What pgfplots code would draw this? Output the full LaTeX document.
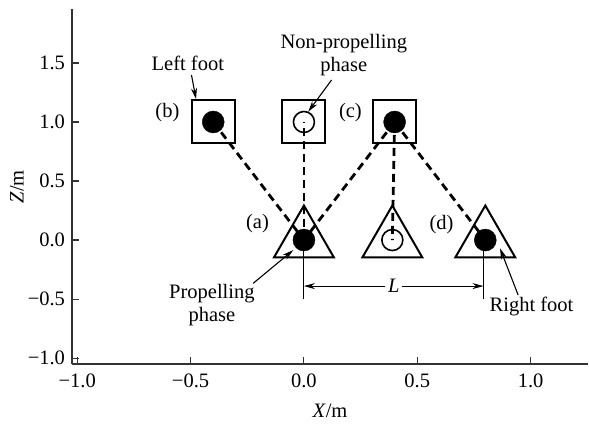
\documentclass[border=0pt]{standalone}
\usepackage{fontspec}
\setmainfont{Liberation Serif}
\usepackage{pgfplots}
\pgfplotsset{compat=1.18}
\usetikzlibrary{arrows.meta}

\newcommand{\lbl}{\fontsize{20.5}{23}\selectfont}

\begin{document}
\begin{tikzpicture}[font=\lbl]
\begin{axis}[
  width=516pt, height=354.5pt, scale only axis,
  xmin=-1.023, xmax=1.253, ymin=-1.05, ymax=1.953,
  axis lines*=left,
  axis line style={line width=1.2pt, black!80},
  tick style={line width=1.1pt, black!80},
  tick align=inside, major tick length=7pt,
  xtick={-1,-0.5,0,0.5,1},
  xticklabels={−1.0,−0.5,0.0,0.5,1.0},
  ytick={-1,-0.5,0,0.5,1,1.5},
  yticklabels={−1.0,−0.5,0.0,0.5,1.0,1.5},
  ticklabel style={font=\lbl},
  xticklabel style={yshift=-6pt},
  yticklabel style={xshift=-3.5pt},
  xlabel={\textit{X}/m},
  ylabel={\textit{Z}/m},
  label style={font=\lbl},
  xlabel style={at={(axis description cs:0.5,0)}, anchor=center, yshift=-47pt},
  ylabel style={at={(axis description cs:0,0.5)}, anchor=center, yshift=55pt},
  clip=false,
]
% support links between foot placements
\pgfplotsset{link/.style={no marks, black, line width=2.8pt, dash pattern=on 8pt off 5pt}}
\addplot[link] coordinates {(-0.4,1) (0,0)};
\addplot[link] coordinates {(0,0) (0,1)};
\addplot[link] coordinates {(0.4,1) (0,0)};
\addplot[link] coordinates {(0.4,1) (0.39,0)};
\addplot[link] coordinates {(0.4,1) (0.8,0)};

% left feet (squares) and right feet (triangles)
\addplot[only marks, mark=square, mark size=21.5pt, mark options={line width=2pt, black}]
  coordinates {(-0.4,1) (0,1) (0.4,1)};
\addplot[only marks, mark=triangle, mark size=34.5pt, mark options={line width=2pt, black}]
  coordinates {(0,0) (0.39,0) (0.8,0)};

% propelling (filled) and non-propelling (open) phases
\addplot[only marks, mark=*, mark size=11pt, mark options={black, fill=black}]
  coordinates {(-0.4,1) (0.4,1) (0,0) (0.8,0)};
\addplot[only marks, mark=o, mark size=10.5pt, mark options={line width=1.6pt, black}]
  coordinates {(0,1) (0.39,0)};

% annotations
\tikzset{ann/.style={line width=1.1pt, -{Stealth[length=11pt,width=6pt]}}}
\node at (axis cs:-0.512,1.50) {Left foot};
\draw[ann] (axis cs:-0.496,1.398) -- (axis cs:-0.476,1.195);
\node at (axis cs:-0.602,1.076) {(b)};
\node[align=center] at (axis cs:0.176,1.568) {Non-propelling\\phase};
\draw[ann] (axis cs:0.122,1.356) -- (axis cs:0.019,1.087);
\node at (axis cs:0.205,1.076) {(c)};
\node at (axis cs:-0.205,0.142) {(a)};
\node at (axis cs:0.607,0.127) {(d)};
\node[align=center] at (axis cs:-0.406,-0.551) {Propelling\\phase};
\draw[ann] (axis cs:-0.224,-0.367) -- (axis cs:-0.047,-0.085);
\node at (axis cs:1.004,-0.565) {Right foot};
\draw[ann] (axis cs:0.945,-0.466) -- (axis cs:0.865,-0.070);

% step length L
\draw[line width=1.1pt] (axis cs:0,0) -- (axis cs:0,-0.496);
\draw[line width=1.1pt] (axis cs:0.792,0) -- (axis cs:0.792,-0.496);
\draw[line width=1.1pt, {Stealth[length=11pt,width=6pt]}-{Stealth[length=11pt,width=6pt]}]
  (axis cs:0,-0.39) -- node[fill=white, inner sep=3pt] {\textit{L}} (axis cs:0.792,-0.39);
\end{axis}
\pgfresetboundingbox
\path ([shift={(-72pt,-63pt)}]current axis.south west) rectangle ([shift={(1pt,9.5pt)}]current axis.north east);
\end{tikzpicture}
\end{document}
